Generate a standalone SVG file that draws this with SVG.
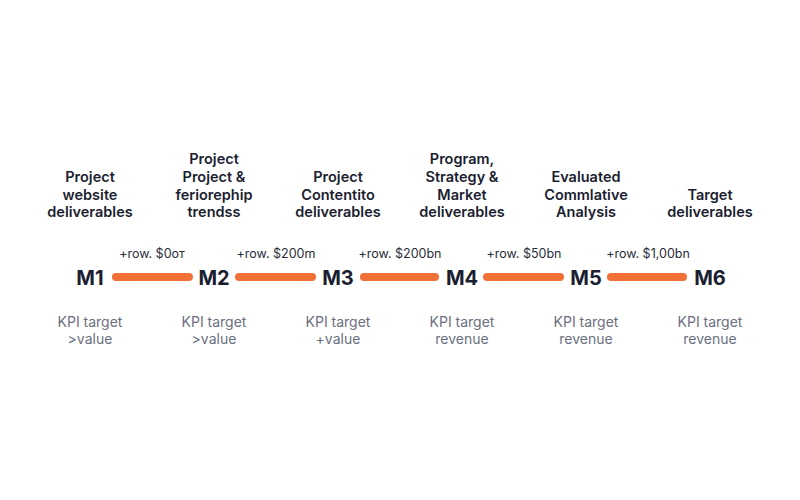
<svg xmlns="http://www.w3.org/2000/svg" width="800" height="500" viewBox="0 0 800 500">
<style>
.bg{fill:#ffffff}
.title{font-family:Inter,"Liberation Sans",sans-serif;font-size:14.5px;font-weight:600;fill:#1b1e30;text-anchor:middle}
.ms{font-family:Inter,"Liberation Sans",sans-serif;font-size:20px;font-weight:700;fill:#1b1e30;text-anchor:middle}
.val{font-family:Inter,"Liberation Sans",sans-serif;font-size:12.5px;font-weight:400;fill:#2a2d3a;text-anchor:middle}
.kpi{font-family:Inter,"Liberation Sans",sans-serif;font-size:14px;font-weight:400;fill:#6b7080;text-anchor:middle}
.bar{stroke:#f07038;stroke-width:8;stroke-linecap:round;fill:none}
</style>
<rect class="bg" x="0" y="0" width="800" height="500"/>
<g id="connectors">
<line class="bar" x1="116" y1="277" x2="189" y2="277"/>
<line class="bar" x1="239" y1="277" x2="312" y2="277"/>
<line class="bar" x1="364" y1="277" x2="435" y2="277"/>
<line class="bar" x1="487" y1="277" x2="560" y2="277"/>
<line class="bar" x1="611" y1="277" x2="683" y2="277"/>
<text class="val" x="152" y="258">+row. $0от</text>
<text class="val" x="276" y="258">+row. $200m</text>
<text class="val" x="400" y="258">+row. $200bn</text>
<text class="val" x="524" y="258">+row. $50bn</text>
<text class="val" x="648" y="258">+row. $1,00bn</text>
</g>
<g id="m1">
<text class="title" x="90" y="182">Project</text>
<text class="title" x="90" y="199.5">website</text>
<text class="title" x="90" y="217">deliverables</text>
<text class="ms" x="90" y="285">M1</text>
<text class="kpi" x="90" y="327">KPI target</text>
<text class="kpi" x="90" y="344">&gt;value</text>
</g>
<g id="m2">
<text class="title" x="214" y="164">Project</text>
<text class="title" x="214" y="182">Project &amp;</text>
<text class="title" x="214" y="199.5">ferioreрhip</text>
<text class="title" x="214" y="217">trendss</text>
<text class="ms" x="214" y="285">M2</text>
<text class="kpi" x="214" y="327">KPI target</text>
<text class="kpi" x="214" y="344">&gt;value</text>
</g>
<g id="m3">
<text class="title" x="338" y="182">Project</text>
<text class="title" x="338" y="199.5">Contentito</text>
<text class="title" x="338" y="217">deliverables</text>
<text class="ms" x="338" y="285">M3</text>
<text class="kpi" x="338" y="327">KPI target</text>
<text class="kpi" x="338" y="344">+value</text>
</g>
<g id="m4">
<text class="title" x="462" y="164">Program,</text>
<text class="title" x="462" y="182">Strategy &amp;</text>
<text class="title" x="462" y="199.5">Market</text>
<text class="title" x="462" y="217">deliverables</text>
<text class="ms" x="462" y="285">M4</text>
<text class="kpi" x="462" y="327">KPI target</text>
<text class="kpi" x="462" y="344">revenue</text>
</g>
<g id="m5">
<text class="title" x="586" y="182">Evaluated</text>
<text class="title" x="586" y="199.5">Commlative</text>
<text class="title" x="586" y="217">Analysis</text>
<text class="ms" x="586" y="285">M5</text>
<text class="kpi" x="586" y="327">KPI target</text>
<text class="kpi" x="586" y="344">revenue</text>
</g>
<g id="m6">
<text class="title" x="710" y="199.5">Target</text>
<text class="title" x="710" y="217">deliverables</text>
<text class="ms" x="710" y="285">M6</text>
<text class="kpi" x="710" y="327">KPI target</text>
<text class="kpi" x="710" y="344">revenue</text>
</g>
</svg>
